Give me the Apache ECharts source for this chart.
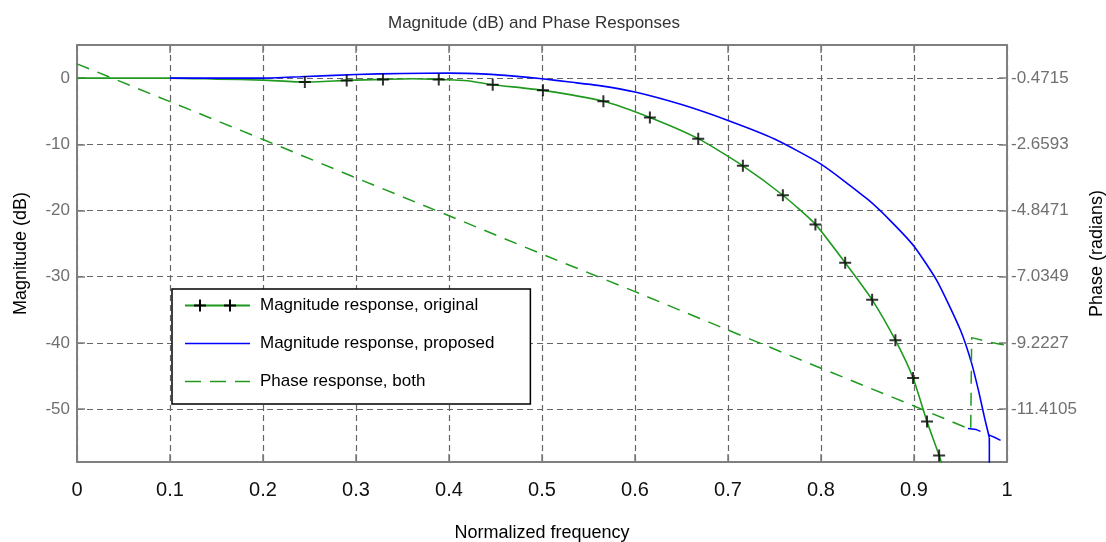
<!DOCTYPE html>
<html>
<head>
<meta charset="utf-8">
<script src="https://cdn.jsdelivr.net/npm/echarts@6/dist/echarts.min.js"></script>
<style>html,body{margin:0;padding:0;background:#fff}#c{width:1106px;height:542px}</style>
</head>
<body>
<div id="c"></div>
<script>
// ---------- data ----------
const titleText = 'Magnitude (dB) and Phase Responses';
const xName = 'Normalized frequency';
const magName = 'Magnitude (dB)';
const phaseName = 'Phase (radians)';
const legendNames = ['Magnitude response, original', 'Magnitude response, proposed', 'Phase response, both'];

const magRange = [-58, 5];
const magTicks = [0, -10, -20, -30, -40, -50];
const phaseTicks = [-0.4715, -2.6593, -4.8471, -7.0349, -9.2227, -11.4105];

// original magnitude (line)
const origFreq = [0, 0.1, 0.15, 0.2, 0.245, 0.29, 0.329, 0.36, 0.389, 0.42, 0.447, 0.501, 0.566, 0.616, 0.668, 0.716, 0.759, 0.794, 0.826, 0.855, 0.880, 0.899, 0.914, 0.927, 0.936];
const origMag  = [0, 0, -0.15, -0.3, -0.6, -0.35, -0.2, -0.1, -0.2, -0.4, -1.0, -1.85, -3.5, -5.95, -9.15, -13.25, -17.7, -22.1, -27.9, -33.5, -39.6, -45.3, -51.9, -57.0, -61];
// original magnitude (+ markers)
const markFreq = [0.245, 0.29, 0.329, 0.389, 0.447, 0.501, 0.566, 0.616, 0.668, 0.716, 0.759, 0.794, 0.826, 0.855, 0.880, 0.899, 0.914, 0.927];
const markMag  = [-0.6, -0.35, -0.2, -0.2, -1.0, -1.85, -3.5, -5.95, -9.15, -13.25, -17.7, -22.1, -27.9, -33.5, -39.6, -45.3, -51.9, -57.0];

// proposed magnitude
const propFreq = [0.1, 0.2, 0.24, 0.3, 0.35, 0.4, 0.44, 0.47, 0.5, 0.53, 0.56, 0.6, 0.65, 0.7, 0.75, 0.8, 0.85, 0.875, 0.9, 0.925, 0.95, 0.962, 0.97, 0.976, 0.981];
const propMag  = [0, 0, 0.2, 0.55, 0.7, 0.75, 0.6, 0.3, -0.1, -0.6, -1.1, -2.1, -4.0, -6.4, -9.2, -13.0, -18.3, -21.6, -25.4, -30.7, -38.1, -43.1, -47.6, -51.4, -54.3];
// vertical drop at the zero of the proposed filter
const propZeroFreq = [0.981, 0.9812];
const propZeroMag  = [-54.3, -80];

// phase (both), with jump near the end
const phaseFreq = [0, 0.1, 0.2, 0.3, 0.4, 0.5, 0.6, 0.7, 0.8, 0.9, 0.958, 0.961, 0.962, 0.98, 0.99, 1.0];
const phaseVal  = [0.0, -1.25, -2.50, -3.77, -5.02, -6.29, -7.53, -8.80, -10.06, -11.31, -12.05, -12.10, -9.05, -9.19, -9.25, -9.30];
// phase tail of the proposed filter
const phaseTailFreq = [0.958, 0.967, 0.987, 0.998, 1.0];
const phaseTailVal  = [-12.05, -12.09, -12.35, -12.52, -12.55];

// ---------- helpers ----------
const zip = (a, b) => a.map((v, i) => [v, b[i]]);
const FONT = "'Liberation Sans', Arial, sans-serif";
const GREEN = '#1f9a1f', BLUE = '#0000ff', AX = '#7f7f7f', LBL = '#707070';
const phaseScale = (phaseTicks[1] - phaseTicks[0]) / (magTicks[1] - magTicks[0]);
const phaseMin = phaseTicks[0] + (magRange[0] - magTicks[0]) * phaseScale;
const phaseMax = phaseTicks[0] + (magRange[1] - magTicks[0]) * phaseScale;

const svg = s => 'image://data:image/svg+xml;charset=utf-8,' + encodeURIComponent(
  "<svg xmlns='http://www.w3.org/2000/svg' width='70' height='14' viewBox='0 0 70 14'>" + s + "</svg>");
const icon1 = svg("<line x1='0' y1='7' x2='65' y2='7' stroke='" + GREEN + "' stroke-width='2'/><path d='M15 1V13M9 7H21M45 1V13M39 7H51' stroke='#000' stroke-width='2'/>");
const icon2 = svg("<line x1='0' y1='7' x2='65' y2='7' stroke='" + BLUE + "' stroke-width='1.5'/>");
const icon3 = svg("<line x1='0' y1='7' x2='65' y2='7' stroke='" + GREEN + "' stroke-width='1.5' stroke-dasharray='16 9'/>");

const PLUS = 'path://M5,0H7V5H12V7H7V12H5V7H0V5H5Z';

const chart = echarts.init(document.getElementById('c'), null, {renderer: 'canvas'});
chart.setOption({
  animation: false,
  backgroundColor: '#fff',
  textStyle: {fontFamily: FONT},
  title: {text: titleText, left: 383, top: 10, textStyle: {fontSize: 17, fontWeight: 'normal', color: '#333', fontFamily: FONT}},
  grid: {left: 77, right: 99, top: 45, bottom: 80, containLabel: false, outerBoundsMode: 'none'},
  legend: {
    orient: 'vertical', left: 172, top: 289, itemWidth: 70, itemHeight: 14, itemGap: 21,
    padding: [8, 36, 14, 13], borderColor: '#000', borderWidth: 1.5, backgroundColor: '#fff',
    selectedMode: false,
    textStyle: {fontSize: 17, color: '#000', fontFamily: FONT},
    data: [{name: legendNames[0], icon: icon1}, {name: legendNames[1], icon: icon2}, {name: legendNames[2], icon: icon3}]
  },
  xAxis: [{
    type: 'value', min: 0, max: 1, interval: 0.1, position: 'bottom',
    name: xName, nameLocation: 'middle', nameGap: 62,
    nameTextStyle: {fontSize: 18, color: '#000', fontFamily: FONT},
    axisLine: {onZero: false, lineStyle: {color: AX, width: 2}},
    axisTick: {inside: true, length: 8, lineStyle: {color: AX, width: 1.5}},
    axisLabel: {fontSize: 20, color: '#111', margin: 18, fontFamily: FONT, formatter: v => String(+(+v).toFixed(1))},
    splitLine: {show: true, lineStyle: {type: [6, 4], color: '#666', width: 1.2}}
  }, {
    type: 'value', min: 0, max: 1, interval: 0.1, position: 'top',
    axisLine: {onZero: false, lineStyle: {color: AX, width: 2}},
    axisTick: {inside: true, length: 8, lineStyle: {color: AX, width: 1.5}},
    axisLabel: {show: false}, splitLine: {show: false}
  }],
  yAxis: [{
    type: 'value', min: magRange[0], max: magRange[1], position: 'left',
    name: magName, nameLocation: 'middle', nameRotate: 90, nameGap: 47,
    nameTextStyle: {fontSize: 18, color: '#000', fontFamily: FONT},
    axisLine: {show: true, onZero: false, lineStyle: {color: AX, width: 2}},
    axisTick: {show: true, inside: true, length: 8, customValues: magTicks, lineStyle: {color: AX, width: 1.5}},
    axisLabel: {customValues: magTicks, fontSize: 17, color: LBL, margin: 7, fontFamily: FONT},
    splitLine: {show: true, lineStyle: {type: [6, 4], color: '#666', width: 1.2}}
  }, {
    type: 'value', min: phaseMin, max: phaseMax, position: 'right',
    name: phaseName, nameLocation: 'middle', nameRotate: 90, nameGap: 80,
    nameTextStyle: {fontSize: 18, color: '#000', fontFamily: FONT},
    axisLine: {show: true, onZero: false, lineStyle: {color: AX, width: 2}},
    axisTick: {show: true, inside: true, length: 8, customValues: phaseTicks, lineStyle: {color: AX, width: 1.5}},
    axisLabel: {customValues: phaseTicks, fontSize: 17, color: LBL, margin: 4, fontFamily: FONT, formatter: v => (+v).toFixed(4)},
    splitLine: {show: false}
  }],
  series: [
    {name: legendNames[0], type: 'line', xAxisIndex: 0, yAxisIndex: 0, data: zip(origFreq, origMag),
     symbol: 'none', smooth: 0.2, lineStyle: {color: GREEN, width: 1.6}, itemStyle: {color: GREEN}, z: 3},
    {name: legendNames[1], type: 'line', xAxisIndex: 0, yAxisIndex: 0, data: zip(propFreq, propMag),
     symbol: 'none', smooth: 0.2, lineStyle: {color: BLUE, width: 1.6}, itemStyle: {color: BLUE}, z: 4},
    {name: 'proposed-zero', type: 'line', xAxisIndex: 0, yAxisIndex: 0, data: zip(propZeroFreq, propZeroMag),
     symbol: 'none', lineStyle: {color: BLUE, width: 1.6}, itemStyle: {color: BLUE}, z: 4},
    {name: legendNames[0], type: 'scatter', xAxisIndex: 0, yAxisIndex: 0, data: zip(markFreq, markMag),
     symbol: PLUS, symbolSize: 12, itemStyle: {color: '#000'}, z: 5},
    {name: legendNames[2], type: 'line', xAxisIndex: 0, yAxisIndex: 1, data: zip(phaseFreq, phaseVal),
     symbol: 'none', lineStyle: {color: GREEN, width: 1.5, type: [13, 9]}, itemStyle: {color: GREEN}, z: 6},
    {name: 'phase-tail', type: 'line', xAxisIndex: 0, yAxisIndex: 1, data: zip(phaseTailFreq, phaseTailVal),
     symbol: 'none', lineStyle: {color: BLUE, width: 1.5, type: [13, 9]}, itemStyle: {color: BLUE}, z: 5}
  ]
});
</script>
</body>
</html>
